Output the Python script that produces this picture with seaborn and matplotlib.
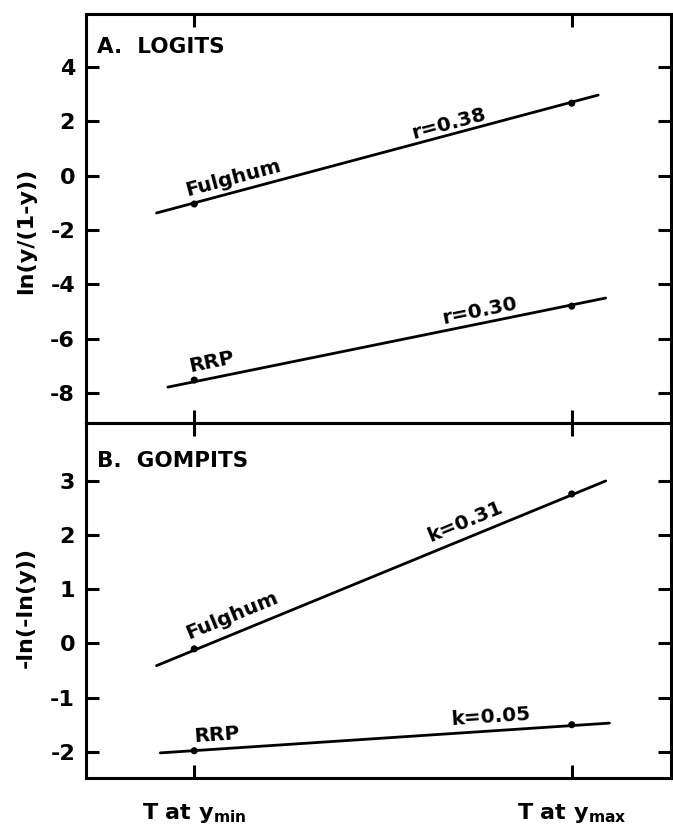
import numpy as np
import pandas as pd
import matplotlib
matplotlib.use("Agg")
import matplotlib.pyplot as plt
import seaborn as sns

# x axis: 0 = temperature at y_min, 1 = temperature at y_max
x_ticks = [0.0, 1.0]
x_ticklabels = [r"T at y$_{\rm min}$", r"T at y$_{\rm max}$"]
point_t = [0.0, 1.0]

# observed transformed values at the two temperatures
logit_fulghum = [-1.04, 2.67]
logit_rrp = [-7.52, -4.80]
gompit_fulghum = [-0.10, 2.76]
gompit_rrp = [-1.98, -1.50]

# fitted lines as drawn (they run a little past both points)
logit_fulghum_line_t = [-0.10, 1.07]
logit_fulghum_line_y = [-1.37, 2.97]
logit_rrp_line_t = [-0.07, 1.09]
logit_rrp_line_y = [-7.78, -4.50]
gompit_fulghum_line_t = [-0.10, 1.09]
gompit_fulghum_line_y = [-0.41, 3.00]
gompit_rrp_line_t = [-0.09, 1.10]
gompit_rrp_line_y = [-2.02, -1.47]

logit_ticks = [-8, -6, -4, -2, 0, 2, 4]
gompit_ticks = [-2, -1, 0, 1, 2, 3]

sns.set_style("ticks")
plt.rcParams["font.family"] = ["DejaVu Sans"]
plt.rcParams["font.weight"] = "bold"
plt.rcParams["mathtext.fontset"] = "custom"
plt.rcParams["mathtext.rm"] = "DejaVu Sans:bold"
plt.rcParams["mathtext.default"] = "rm"
for key in ["text.color", "axes.labelcolor", "xtick.color", "ytick.color"]:
    plt.rcParams[key] = "black"

LW_AX = 2.2
LW_LINE = 2.0
FS_TICK = 16
FS_TITLE = 15.5
FS_LABEL = 14.5


def draw_panel(ax, lines, points):
    for lt, ly in lines:
        df = pd.DataFrame({"t": lt, "v": ly})
        sns.lineplot(data=df, x="t", y="v", ax=ax, color="black",
                     linewidth=LW_LINE, sort=False)
    for pv in points:
        df = pd.DataFrame({"t": point_t, "v": pv})
        sns.scatterplot(data=df, x="t", y="v", ax=ax, color="black",
                        s=26, edgecolor="none", zorder=3)
    for side in ["left", "right", "top", "bottom"]:
        ax.spines[side].set_visible(True)
        ax.spines[side].set_linewidth(LW_AX)
        ax.spines[side].set_color("black")
    ax.set_xlim(-0.2865, 1.263)
    ax.set_xticks(x_ticks)
    ax.tick_params(axis="both", direction="in", length=9.5, width=LW_AX,
                   top=True, right=True, labelsize=FS_TICK)
    ax.tick_params(axis="y", pad=8)
    ax.set_xlabel("")


def line_angle(ax, lt, ly):
    p = ax.transData.transform(np.column_stack([lt, ly]))
    return np.degrees(np.arctan2(p[1, 1] - p[0, 1], p[1, 0] - p[0, 0]))


fig = plt.figure(figsize=(6.73, 8.31), dpi=100)
ax_a = fig.add_axes([0.128, 0.491, 0.869, 0.492])
ax_b = fig.add_axes([0.128, 0.064, 0.869, 0.427])

draw_panel(ax_a,
           [(logit_fulghum_line_t, logit_fulghum_line_y),
            (logit_rrp_line_t, logit_rrp_line_y)],
           [logit_fulghum, logit_rrp])
ax_a.set_ylim(-9.1, 5.95)
ax_a.set_yticks(logit_ticks)
ax_a.set_yticklabels([str(v) for v in logit_ticks])
ax_a.tick_params(axis="x", labelbottom=False)
ax_a.set_ylabel("ln(y/(1-y))", fontsize=FS_TICK, fontweight="bold")
ax_a.yaxis.set_label_coords(-0.086, 0.47)
ax_a.text(-0.257, 4.52, "A.  LOGITS", fontsize=FS_TITLE, fontweight="bold")

draw_panel(ax_b,
           [(gompit_fulghum_line_t, gompit_fulghum_line_y),
            (gompit_rrp_line_t, gompit_rrp_line_y)],
           [gompit_fulghum, gompit_rrp])
ax_b.set_ylim(-2.48, 4.07)
ax_b.set_yticks(gompit_ticks)
ax_b.set_yticklabels([str(v) for v in gompit_ticks])
ax_b.set_xticklabels(x_ticklabels, fontsize=FS_TICK)
ax_b.tick_params(axis="x", pad=17)
ax_b.set_ylabel("-ln(-ln(y))", fontsize=FS_TICK, fontweight="bold")
ax_b.yaxis.set_label_coords(-0.086, 0.48)
ax_b.text(-0.257, 3.26, "B.  GOMPITS", fontsize=FS_TITLE, fontweight="bold")

# line labels, drawn along each line
labels_a = [
    ("Fulghum", -0.02, -0.76, logit_fulghum_line_t, logit_fulghum_line_y),
    ("r=0.38", 0.58, 1.34, logit_fulghum_line_t, logit_fulghum_line_y),
    ("RRP", -0.01, -7.22, logit_rrp_line_t, logit_rrp_line_y),
    ("r=0.30", 0.66, -5.46, logit_rrp_line_t, logit_rrp_line_y),
]
labels_b = [
    ("Fulghum", -0.015, 0.08, gompit_fulghum_line_t, gompit_fulghum_line_y),
    ("k=0.31", 0.625, 1.87, gompit_fulghum_line_t, gompit_fulghum_line_y),
    ("RRP", 0.0, -1.82, gompit_rrp_line_t, gompit_rrp_line_y),
    ("k=0.05", 0.68, -1.51, gompit_rrp_line_t, gompit_rrp_line_y),
]
for ax, labels in [(ax_a, labels_a), (ax_b, labels_b)]:
    for txt, tx, ty, lt, ly in labels:
        ax.text(tx, ty, txt, fontsize=FS_LABEL, fontweight="bold",
                rotation=line_angle(ax, lt, ly), rotation_mode="anchor",
                ha="left", va="baseline")

fig.savefig("out.png", dpi=100)
